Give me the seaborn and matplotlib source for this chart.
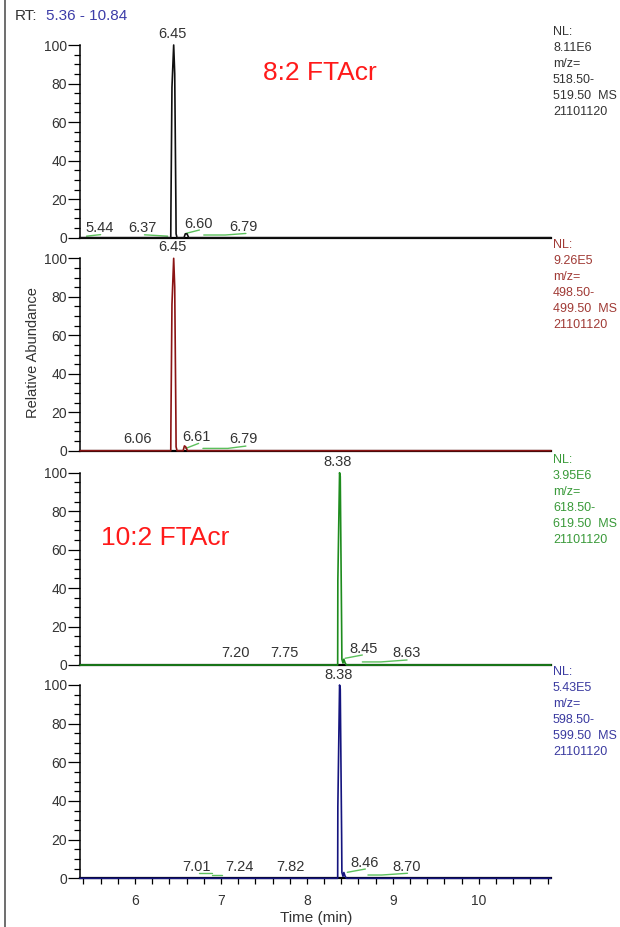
import matplotlib
matplotlib.use("Agg")
import matplotlib.pyplot as plt
import matplotlib.ticker as mticker
from matplotlib.lines import Line2D
import seaborn as sns

sns.set_theme(style="white")
plt.rcParams["font.family"] = ["Liberation Sans", "DejaVu Sans"]

RT_RANGE = (5.36, 10.84)

# chromatogram traces: retention time (min) / relative abundance (%)
p1_time = [5.36, 6.416, 6.418, 6.430, 6.450, 6.462, 6.476, 6.478, 6.489, 6.570, 6.585, 6.605, 6.625, 10.84]
p1_abund = [0, 0, 15, 78, 100, 85, 15, 2, 0, 0, 2, 2, 0, 0]
p2_time = [5.36, 6.416, 6.418, 6.430, 6.450, 6.462, 6.476, 6.478, 6.489, 6.560, 6.575, 6.590, 6.610, 10.84]
p2_abund = [0, 0, 15, 76, 100, 85, 15, 2, 0, 0, 2.5, 2, 0, 0]
p3_time = [5.36, 8.358, 8.360, 8.380, 8.388, 8.404, 8.407, 8.420, 8.430, 8.445, 8.460, 10.84]
p3_abund = [0, 0, 44, 100, 98, 20, 3, 1, 3, 1, 0, 0]
p4_time = [5.36, 8.358, 8.360, 8.380, 8.388, 8.404, 8.407, 8.420, 8.430, 8.445, 8.460, 10.84]
p4_abund = [0, 0, 37, 100, 98, 22, 3, 1, 3, 1, 0, 0]

# peak labels: text, x (min), y (%)
p1_labels = ["6.45", "5.44", "6.37", "6.60", "6.79"]
p1_lab_x = [6.43, 5.59, 6.085, 6.74, 7.26]
p1_lab_y = [105.5, 5.2, 5.2, 7.1, 5.4]
p2_labels = ["6.45", "6.06", "6.61", "6.79"]
p2_lab_x = [6.43, 6.03, 6.71, 7.26]
p2_lab_y = [106, 6.1, 7.3, 5.9]
p3_labels = ["8.38", "7.20", "7.75", "8.45", "8.63"]
p3_lab_x = [8.36, 7.17, 7.74, 8.66, 9.16]
p3_lab_y = [105.7, 6.1, 6.1, 8.3, 6.1]
p4_labels = ["8.38", "7.01", "7.24", "7.82", "8.46", "8.70"]
p4_lab_x = [8.37, 6.715, 7.22, 7.81, 8.67, 9.16]
p4_lab_y = [105.2, 5.7, 5.7, 5.7, 7.8, 5.7]

# integration baselines (green) as polylines: (times, abundances)
p1_base = [([5.436, 5.60], [0.8, 1.6]), ([6.11, 6.38], [1.5, 0.8]),
           ([6.59, 6.75], [2.2, 4.0]), ([6.80, 7.05, 7.29], [1.4, 1.4, 2.2])]
p2_base = [([6.59, 6.74], [1.2, 3.8]), ([6.79, 7.08, 7.29], [1.2, 1.2, 2.4])]
p3_base = [([8.445, 8.645], [3.5, 5.2]), ([8.645, 8.86, 9.165], [1.6, 1.6, 2.6])]
p4_base = [([6.74, 6.90], [2.6, 2.6]), ([6.90, 7.01], [1.7, 1.7]),
           ([8.47, 8.68], [3.1, 4.8]), ([8.71, 8.87, 9.17], [1.7, 1.7, 2.6])]

# scan info printed to the right of each trace
nl_values = ["8.11E6", "9.26E5", "3.95E6", "5.43E5"]
mz_low = ["518.50-", "498.50-", "618.50-", "598.50-"]
mz_high = ["519.50  MS", "499.50  MS", "619.50  MS", "599.50  MS"]
file_name = "21101120"

trace_colors = ["#111111", "#8b1414", "#1e8c1e", "#14147e"]
info_colors = ["#333333", "#a03a35", "#3a9a3a", "#3a3aa0"]
BASE_GREEN = "#5cc05c"

panels = [
    (p1_time, p1_abund, p1_labels, p1_lab_x, p1_lab_y, p1_base),
    (p2_time, p2_abund, p2_labels, p2_lab_x, p2_lab_y, p2_base),
    (p3_time, p3_abund, p3_labels, p3_lab_x, p3_lab_y, p3_base),
    (p4_time, p4_abund, p4_labels, p4_lab_x, p4_lab_y, p4_base),
]
# panel extents in pixels (top, bottom) of the 0-100 span
extents = [(45, 237.7), (258.3, 450.7), (472.7, 665), (685, 878.3)]

W, H = 620, 927
fig = plt.figure(figsize=(W / 100, H / 100), dpi=100)
x0, x1 = 80, 551

for i, ((t, a, labs, lx, ly, base), (top, bot)) in enumerate(zip(panels, extents)):
    ax = fig.add_axes([x0 / W, 1 - bot / H, (x1 - x0) / W, (bot - top) / H])
    ax.set_facecolor("white")
    sns.lineplot(x=t, y=a, ax=ax, color=trace_colors[i], lw=1.2,
                 estimator=None, sort=False, clip_on=False, zorder=3)
    for bt, ba in base:
        ax.plot(bt, ba, color=BASE_GREEN, lw=1.0, zorder=2)
    for s, xx, yy in zip(labs, lx, ly):
        ax.text(xx, yy, s, ha="center", va="center", fontsize=10.5,
                color="#333333", clip_on=False)

    ax.set_xlim(*RT_RANGE)
    ax.set_ylim(0, 100)
    for side in ("top", "right"):
        ax.spines[side].set_visible(False)
    ax.spines["left"].set_color("black")
    ax.spines["left"].set_linewidth(1.1)
    ax.spines["bottom"].set_color("black")
    ax.spines["bottom"].set_linewidth(1.6)

    ax.yaxis.set_major_locator(mticker.MultipleLocator(20))
    ax.yaxis.set_minor_locator(mticker.MultipleLocator(5))
    ax.tick_params(axis="y", which="major", left=True, length=8.5, width=0.9,
                   pad=0.8, labelsize=10, colors="black", labelcolor="#333333")
    ax.tick_params(axis="y", which="minor", left=True, length=4.3, width=0.9,
                   colors="black")
    ax.set_xlabel("")
    ax.set_ylabel("")

    if i < 3:
        ax.tick_params(axis="x", which="both", bottom=False, labelbottom=False)
    else:
        ax.xaxis.set_major_locator(mticker.MultipleLocator(1))
        ax.xaxis.set_minor_locator(mticker.MultipleLocator(0.2))
        ax.tick_params(axis="x", which="major", bottom=True, length=4.5, width=0.9,
                       pad=7, labelsize=10, colors="black", labelcolor="#333333")
        ax.tick_params(axis="x", which="minor", bottom=True, length=4.5, width=0.9,
                       colors="black")

    info = ["NL:", nl_values[i], "m/z=", mz_low[i], mz_high[i], file_name]
    for k, line in enumerate(info):
        fig.text(553 / W, 1 - (top - 13 + 16 * k) / H, line, ha="left", va="center",
                 fontsize=9, color=info_colors[i])

    if i == 0:
        ax.text((263 - x0) / (x1 - x0), (bot - 73) / (bot - top), "8:2 FTAcr",
                transform=ax.transAxes, ha="left", va="center", fontsize=19,
                color="#ff1a1a")
    if i == 2:
        ax.text((101 - x0) / (x1 - x0), (bot - 538) / (bot - top), "10:2 FTAcr",
                transform=ax.transAxes, ha="left", va="center", fontsize=19,
                color="#ff1a1a")

fig.text(15 / W, 1 - 16 / H, "RT:", ha="left", va="center", fontsize=11, color="#333333")
fig.text(46 / W, 1 - 16 / H, "5.36 - 10.84", ha="left", va="center", fontsize=11,
         color="#3c3ca8")
fig.text(33 / W, 1 - 353 / H, "Relative Abundance", rotation=90, ha="center",
         va="center", fontsize=10.5, color="#333333")
fig.text(316 / W, 1 - 918 / H, "Time (min)", ha="center", va="center", fontsize=11,
         color="#333333")
fig.add_artist(Line2D([5 / W, 5 / W], [0, 1], transform=fig.transFigure,
                      color="#555555", lw=1.2))

fig.savefig("out.png", dpi=100, facecolor="white")
